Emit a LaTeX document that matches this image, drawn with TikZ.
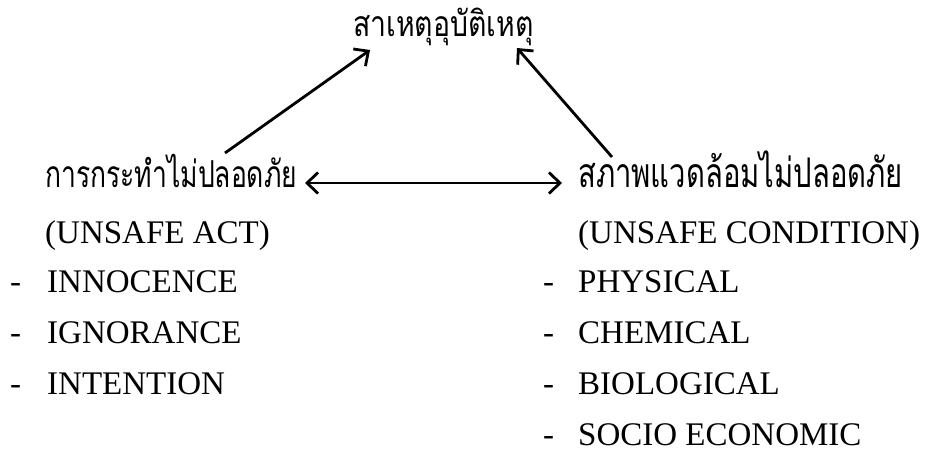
\documentclass[tikz,border=0pt]{standalone}
\usepackage{graphicx}
\usepackage{fontspec}
\setmainfont{Liberation Serif}
\newfontfamily\thaifont[Script=Thai]{Loma}
\newcommand{\thtall}[1]{\scalebox{1}[1.4]{#1}}
\usetikzlibrary{arrows.meta}
\begin{document}
\begin{tikzpicture}[x=1pt,y=-1pt,
  lat/.style={anchor=base west, inner sep=0pt, font=\fontsize{33}{36}\selectfont},
  th/.style={anchor=base west, inner sep=0pt, font=\thaifont\fontsize{#1}{36}\selectfont},
  dashmark/.style={anchor=base west, inner sep=0pt, font=\fontsize{33}{36}\selectfont},
  conn/.style={line width=2.8pt, -{Straight Barb[length=11pt,width=21pt]}},
  dconn/.style={line width=2.8pt, {Straight Barb[length=11pt,width=21pt]}-{Straight Barb[length=11pt,width=21pt]}}]
\useasboundingbox (0,0) rectangle (925,453);
% top
\node[th=28.4] (cause) at (353,36) {\scalebox{1}[1.25]{สาเหตุอุบัติเหตุ}};
% left column
\node[th=26.5] (act) at (45,187) {\thtall{การกระทำไม่ปลอดภัย}};
\node[lat] (actEn) at (45,243) {(UNSAFE ACT)};
\node[dashmark] (d1) at (10,292) {-};
\node[lat] (a1) at (47,292) {INNOCENCE};
\node[dashmark] (d2) at (10,343) {-};
\node[lat] (a2) at (47,343) {IGNORANCE};
\node[dashmark] (d3) at (10,394) {-};
\node[lat] (a3) at (47,394) {INTENTION};
% right column
\node[th=29.2] (cond) at (578,187) {\thtall{สภาพแวดล้อมไม่ปลอดภัย}};
\node[lat] (condEn) at (578,243) {(UNSAFE CONDITION)};
\node[dashmark] (e1) at (543,292) {-};
\node[lat] (b1) at (578,292) {PHYSICAL};
\node[dashmark] (e2) at (543,343) {-};
\node[lat] (b2) at (578,343) {CHEMICAL};
\node[dashmark] (e3) at (543,394) {-};
\node[lat] (b3) at (578,394) {BIOLOGICAL};
\node[dashmark] (e4) at (543,445) {-};
\node[lat] (b4) at (578,445) {SOCIO ECONOMIC};
% connector ends
\coordinate (actTop) at (225,153);
\coordinate (condTop) at (612,157);
\coordinate (causeL) at (370,50);
\coordinate (causeR) at (517,48);
\coordinate (dL) at (305,183);
\coordinate (dR) at (562,183);
\draw[conn] (actTop) -- (causeL);
\draw[conn] (condTop) -- (causeR);
\draw[dconn] (dL) -- (dR);
\end{tikzpicture}
\end{document}
